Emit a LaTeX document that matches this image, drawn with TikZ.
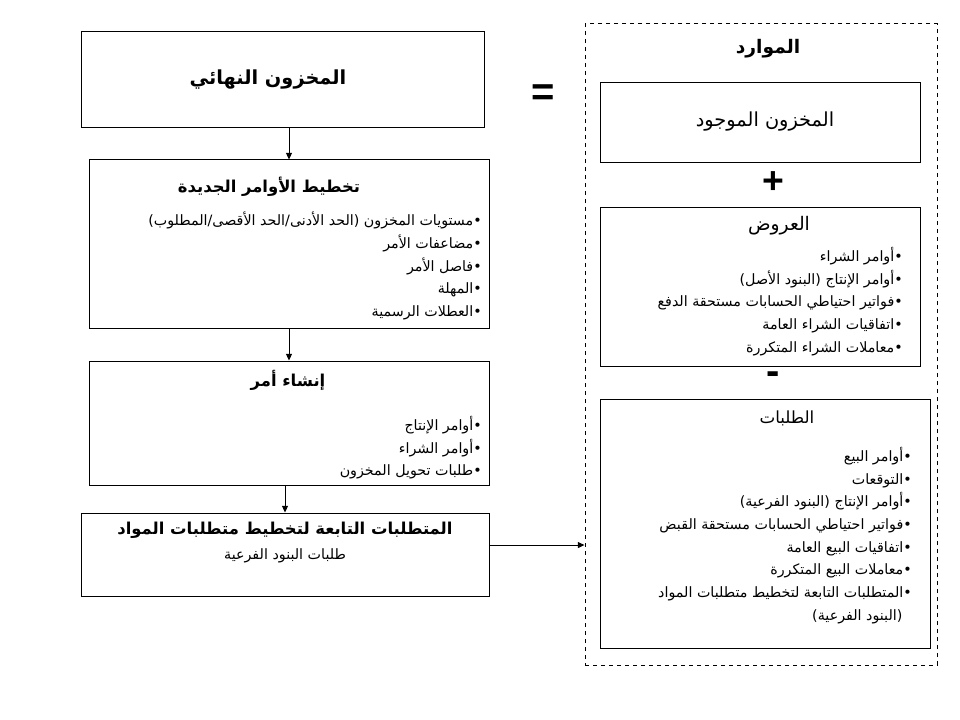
\documentclass[tikz,border=0pt]{standalone}
\usepackage{fontspec}
\setmainfont{Liberation Sans}
\newfontfamily\ar[Script=Arabic]{DejaVu Sans}
\TeXXeTstate=1
\usetikzlibrary{arrows.meta}
\newcommand{\rtxt}[1]{\beginR #1\endR}
\tikzset{
  box/.style={draw=black, line width=0.75pt, rectangle, inner sep=0pt},
  arr/.style={line width=0.75pt, -{Triangle[length=5pt,width=4.5pt]}},
  ttl/.style={font=\ar\bfseries\fontsize{12.3}{15}\selectfont, inner sep=0pt},
  body/.style={font=\ar\fontsize{10.7}{17}\selectfont, align=right, inner sep=0pt},
  sym/.style={font=\bfseries\fontsize{28}{30}\selectfont, inner sep=0pt},
}
\begin{document}
\begin{tikzpicture}[x=0.75pt,y=-0.75pt]
\useasboundingbox (0,0) rectangle (960,720);
% left column boxes
\node[box, minimum width=403*0.75pt, minimum height=96*0.75pt] (A) at (282.5,80) {};
\node[box, minimum width=400*0.75pt, minimum height=168*0.75pt] (B) at (289,244) {};
\node[box, minimum width=400*0.75pt, minimum height=124*0.75pt] (C) at (289,423) {};
\node[box, minimum width=408*0.75pt, minimum height=83*0.75pt] (D) at (285,554.5) {};
% right side
\node[box, dashed, minimum width=352*0.75pt, minimum height=641*0.75pt] (R) at (761,344.5) {};
\node[box, minimum width=320*0.75pt, minimum height=80*0.75pt] (E) at (760,123) {};
\node[box, minimum width=320*0.75pt, minimum height=158*0.75pt] (F) at (760,287) {};
\node[box, minimum width=330*0.75pt, minimum height=249*0.75pt] (G) at (765,523.5) {};

% texts left
\node[ttl, font=\ar\bfseries\fontsize{14.5}{17}\selectfont] (At) at (268,80) {\rtxt{المخزون النهائي}};
\node[ttl] (Bt) at (269,187) {\rtxt{تخطيط الأوامر الجديدة}};
\node[body, anchor=north east] (Bb) at (482,212) {%
\rtxt{•مستويات  المخزون (الحد الأدنى/الحد الأقصى/المطلوب)}\\
\rtxt{•مضاعفات الأمر}\\
\rtxt{•فاصل الأمر}\\
\rtxt{•المهلة}\\
\rtxt{•العطلات الرسمية}};
\node[ttl] (Ct) at (288,380) {\rtxt{إنشاء أمر}};
\node[body, anchor=north east] (Cb) at (482,416) {%
\rtxt{•أوامر الإنتاج}\\
\rtxt{•أوامر الشراء}\\
\rtxt{•طلبات تحويل المخزون}};
\node[ttl] (Dt) at (285,530) {\rtxt{المتطلبات التابعة لتخطيط متطلبات المواد}};
\node[body] (Ds) at (285,556) {\rtxt{طلبات البنود الفرعية}};

% texts right
\node[ttl, font=\ar\bfseries\fontsize{14}{17}\selectfont] (Rt) at (768,49) {\rtxt{الموارد}};
\node[ttl, font=\ar\fontsize{14.5}{17}\selectfont] (Et) at (765,122) {\rtxt{المخزون الموجود}};
\node[sym] (plus) at (773,183) {+};
\node[ttl, font=\ar\fontsize{14}{16}\selectfont] (Ft) at (779,226) {\rtxt{العروض}};
\node[body, anchor=north east] (Fb) at (903,247) {%
\rtxt{•أوامر الشراء}\\
\rtxt{•أوامر الإنتاج (البنود الأصل)}\\
\rtxt{•فواتير احتياطي الحسابات مستحقة الدفع}\\
\rtxt{•اتفاقيات الشراء العامة}\\
\rtxt{•معاملات الشراء المتكررة}};
\node[sym, font=\bfseries\fontsize{30}{32}\selectfont] (minus) at (773,378) {-};
\node[ttl, font=\ar\fontsize{12.5}{15}\selectfont] (Gt) at (787,418) {\rtxt{الطلبات}};
\node[body, anchor=north east] (Gb) at (912,447) {%
\rtxt{•أوامر البيع}\\
\rtxt{•التوقعات}\\
\rtxt{•أوامر الإنتاج (البنود الفرعية)}\\
\rtxt{•فواتير احتياطي الحسابات مستحقة القبض}\\
\rtxt{•اتفاقيات البيع العامة}\\
\rtxt{•معاملات البيع المتكررة}\\
\rtxt{•المتطلبات التابعة لتخطيط متطلبات المواد}\\
\rtxt{\kern7pt(البنود الفرعية)}};
\node[sym, font=\bfseries\fontsize{30}{32}\selectfont] (eq) at (543,95) {=};

% connectors
\draw[arr] (A.south -| B.north) -- (B.north);
\draw[arr] (B.south) -- (C.north);
\draw[arr] (C.south -| D.north) -- (D.north);
\draw[arr] ([yshift=7.1pt]D.east) -- ([yshift=7.1pt]D.east -| R.west);
\end{tikzpicture}
\end{document}
